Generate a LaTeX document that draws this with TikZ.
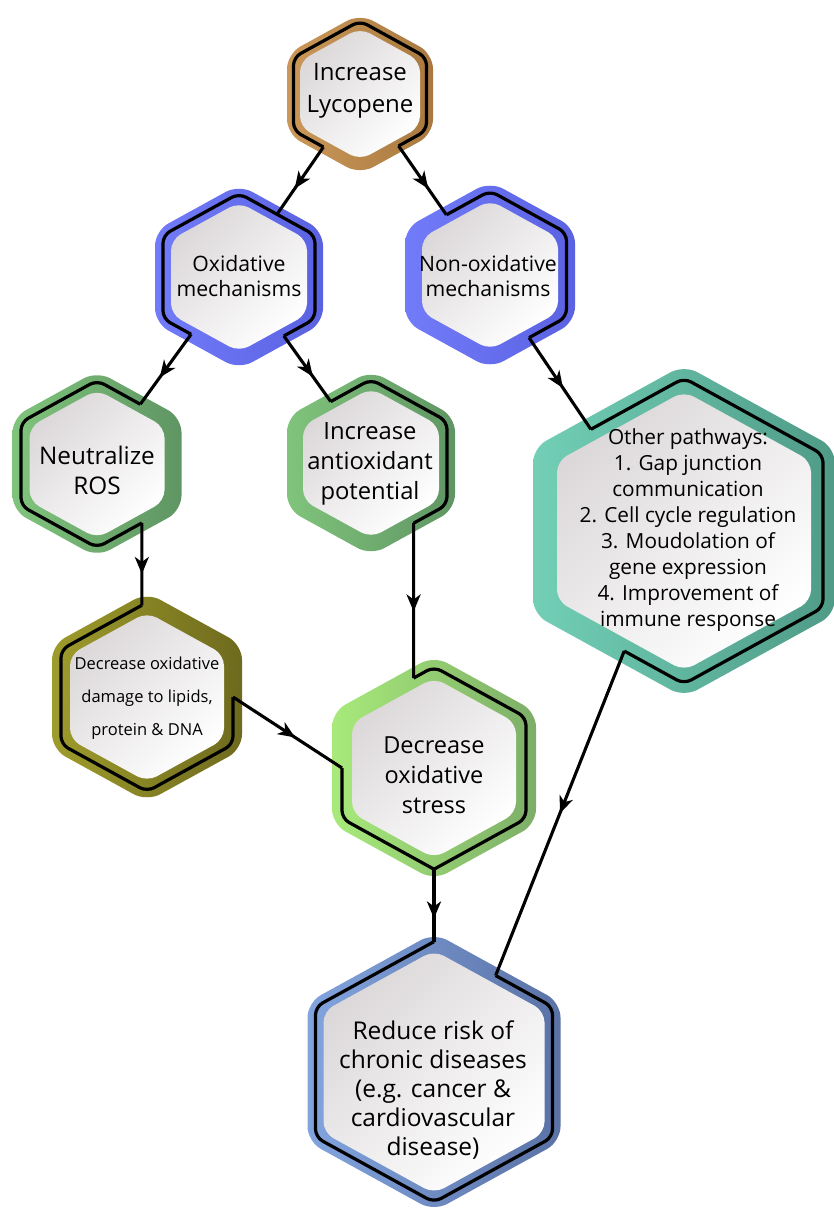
\documentclass[tikz,border=0pt]{standalone}
\usepackage{fontspec}
\setmainfont{Open Sans}
\usetikzlibrary{calc,arrows.meta,decorations.markings}

\definecolor{lycL}{HTML}{CB9859}
\definecolor{lycR}{HTML}{A9793F}
\definecolor{bluL}{HTML}{727BF8}
\definecolor{bluR}{HTML}{5A62E2}
\definecolor{grnL}{HTML}{80C47C}
\definecolor{grnR}{HTML}{5F9563}
\definecolor{tealL}{HTML}{72CFB6}
\definecolor{tealR}{HTML}{4F9B87}
\definecolor{oliL}{HTML}{9E9C2B}
\definecolor{oliR}{HTML}{6E6A1E}
\definecolor{lgrL}{HTML}{A8EA7A}
\definecolor{lgrR}{HTML}{7DAE68}
\definecolor{steL}{HTML}{82A4DE}
\definecolor{steR}{HTML}{5A72A6}
\definecolor{fillTop}{HTML}{DCD8D9}
\definecolor{fillMid}{HTML}{F4F3F3}

\newcommand{\hexshape}[7]{%
  \pgfmathsetmacro{\hxW}{#4}%
  \pgfmathsetmacro{\hxH}{1.1*#4}%
  \pgfmathsetmacro{\hxWi}{#4-#5}%
  \pgfmathsetmacro{\hxHi}{1.1*(#4-#5)}%
  \pgfmathsetmacro{\hxWb}{#4-0.5*#5}%
  \pgfmathsetmacro{\hxHb}{1.1*(#4-0.5*#5)}%
  \shade[left color=#6, right color=#7, rounded corners=15pt]
    (#2,#3-\hxH) -- (#2+\hxW,#3-0.5*\hxH) -- (#2+\hxW,#3+0.5*\hxH) -- (#2,#3+\hxH)
    -- (#2-\hxW,#3+0.5*\hxH) -- (#2-\hxW,#3-0.5*\hxH) -- cycle;
  \shade[top color=fillTop, middle color=fillMid, bottom color=white, shading angle=45, rounded corners=11pt]
    (#2,#3-\hxHi) -- (#2+\hxWi,#3-0.5*\hxHi) -- (#2+\hxWi,#3+0.5*\hxHi) -- (#2,#3+\hxHi)
    -- (#2-\hxWi,#3+0.5*\hxHi) -- (#2-\hxWi,#3-0.5*\hxHi) -- cycle;
  \coordinate (#1-t) at (#2,#3-\hxHb);
  \coordinate (#1-ur) at (#2+\hxWb,#3-0.5*\hxHb);
  \coordinate (#1-lr) at (#2+\hxWb,#3+0.5*\hxHb);
  \coordinate (#1-b) at (#2,#3+\hxHb);
  \coordinate (#1-ll) at (#2-\hxWb,#3+0.5*\hxHb);
  \coordinate (#1-ul) at (#2-\hxWb,#3-0.5*\hxHb);
}

\tikzset{
  rim/.style={line width=3.2pt, black, rounded corners=8pt, line join=round},
  conn/.style={line width=3.1pt, black,
    decoration={markings, mark=at position #1 with {\arrow{Stealth[length=17pt,width=14pt,inset=5pt]}}},
    postaction={decorate}},
  conn/.default=0.55,
  hextext/.style={align=center, inner sep=0pt, text=black},
}

\begin{document}
\begin{tikzpicture}[x=1pt,y=-1pt]
\useasboundingbox (0,0) rectangle (833,1209);

% hexagon bodies
\hexshape{lyc}{360}{94}{73}{13}{lycL}{lycR}
\hexshape{ox}{239}{277}{84}{16}{bluL}{bluR}
\hexshape{nox}{490}{275}{85}{17}{bluL}{bluR}
\hexshape{neu}{97}{464}{84.5}{17}{grnL}{grnR}
\hexshape{ant}{371}{463}{84}{16}{grnL}{grnR}
\hexshape{oth}{684}{531}{151}{24}{tealL}{tealR}
\hexshape{dmg}{147}{697}{95}{18}{oliL}{oliR}
\hexshape{str}{434}{768}{102}{20}{lgrL}{lgrR}
\hexshape{red}{434}{1072}{126.5}{16}{steL}{steR}

% texts
\node[hextext, font=\fontsize{24}{32}\selectfont] (lyc) at (360,91) {Increase\\Lycopene};
\node[hextext, font=\fontsize{21.2}{25}\selectfont] (ox) at (239,276) {Oxidative\\mechanisms};
\node[hextext, font=\fontsize{21.2}{25}\selectfont] (nox) at (488,276) {Non-oxidative\\mechanisms};
\node[hextext, font=\fontsize{24.3}{30}\selectfont] (neu) at (97,470) {Neutralize\\ROS};
\node[hextext, font=\fontsize{23.8}{30}\selectfont] (ant) at (370,464) {Increase\\antioxidant\\potential};
\node[hextext, font=\fontsize{20.8}{26}\selectfont] (oth) at (688,530) {Other pathways:\\1. Gap junction\\communication\\2. Cell cycle regulation\\3. Moudolation of\\gene expression\\4. Improvement of\\immune response};
\node[hextext, font=\fontsize{16.5}{33}\selectfont] (dmg) at (147,698) {Decrease oxidative\\damage to lipids,\\protein \& DNA};
\node[hextext, font=\fontsize{23.5}{30}\selectfont] (str) at (434,775) {Decrease\\oxidative\\stress};
\node[hextext, font=\fontsize{24.5}{29}\selectfont] (red) at (433,1090) {Reduce risk of\\chronic diseases\\(e.g. cancer \&\\cardiovascular\\disease)};

% connection points on the rims
\coordinate (lyc-A) at ($(lyc-ll)!0.45!(lyc-b)$);
\coordinate (lyc-B) at ($(lyc-b)!0.58!(lyc-lr)$);
\coordinate (ox-A) at ($(ox-t)!0.5!(ox-ur)$);
\coordinate (ox-C) at ($(ox-ll)!0.37!(ox-b)$);
\coordinate (ox-D) at ($(ox-b)!0.59!(ox-lr)$);
\coordinate (nox-B) at ($(nox-ul)!0.43!(nox-t)$);
\coordinate (nox-E) at ($(nox-b)!0.51!(nox-lr)$);
\coordinate (neu-C) at ($(neu-t)!0.57!(neu-ur)$);
\coordinate (neu-F) at ($(neu-b)!0.59!(neu-lr)$);
\coordinate (ant-D) at ($(ant-ul)!0.47!(ant-t)$);
\coordinate (ant-G) at ($(ant-b)!0.56!(ant-lr)$);
\coordinate (oth-E) at ($(oth-ul)!0.33!(oth-t)$);
\coordinate (oth-J) at ($(oth-ll)!0.57!(oth-b)$);
\coordinate (neuFd) at ($(neu-F)+(0,100)$);
\coordinate (dmg-F) at (intersection of neu-F--neuFd and dmg-t--dmg-ul);
\coordinate (dmg-H) at ($(dmg-ur)!0.5!(dmg-lr)$);
\coordinate (antGd) at ($(ant-G)+(0,100)$);
\coordinate (str-G) at (intersection of ant-G--antGd and str-t--str-ul);
\coordinate (str-H) at ($(str-ul)!0.5!(str-ll)$);
\coordinate (red-J) at ($(red-t)!0.52!(red-ur)$);

% black rims
\draw[rim] (lyc-A) -- (lyc-ll) -- (lyc-ul) -- (lyc-t) -- (lyc-ur) -- (lyc-lr) -- (lyc-B);
\draw[rim] (ox-C) -- (ox-ll) -- (ox-ul) -- (ox-t) -- (ox-ur) -- (ox-lr) -- (ox-D);
\draw[rim] (nox-B) -- (nox-t) -- (nox-ur) -- (nox-lr) -- (nox-E);
\draw[rim] (neu-C) -- (neu-t) -- (neu-ul) -- (neu-ll) -- (neu-b) -- (neu-F);
\draw[rim] (ant-D) -- (ant-t) -- (ant-ur) -- (ant-lr) -- (ant-G);
\draw[rim] (oth-E) -- (oth-t) -- (oth-ur) -- (oth-lr) -- (oth-b) -- (oth-J);
\draw[rim] (dmg-F) -- (dmg-ul) -- (dmg-ll) -- (dmg-b) -- (dmg-lr) -- (dmg-H);
\draw[rim] (str-G) -- (str-t) -- (str-ur) -- (str-lr) -- (str-b);
\draw[rim] (str-H) -- (str-ll) -- (str-b);
\draw[rim] (red-t) -- (red-ul) -- (red-ll) -- (red-b) -- (red-lr) -- (red-ur) -- (red-J);

% connectors
\draw[conn=0.62] (lyc-A) -- (ox-A);
\draw[conn=0.62] (lyc-B) -- (nox-B);
\draw[conn=0.62] (ox-C) -- (neu-C);
\draw[conn=0.62] (ox-D) -- (ant-D);
\draw[conn=0.55] (nox-E) -- (oth-E);
\draw[conn=0.62] (neu-F) -- (dmg-F);
\draw[conn=0.57] (ant-G) -- (str-G);
\draw[conn=0.57] (dmg-H) -- (str-H);
\draw[conn=0.68] (str-b) -- (red-t);
\draw[conn=0.5] (oth-J) -- (red-J);
\end{tikzpicture}
\end{document}
